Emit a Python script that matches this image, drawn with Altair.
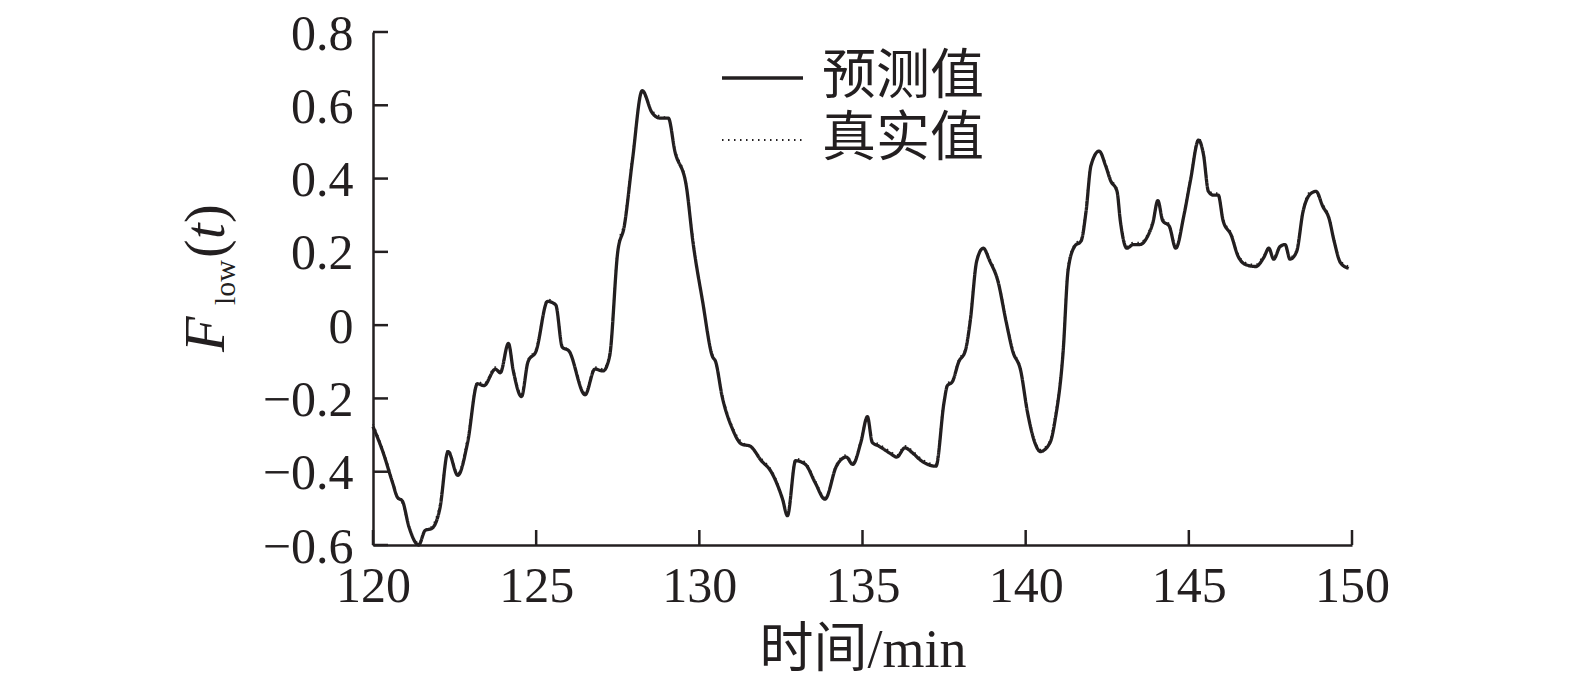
import altair as alt
import pandas as pd

# ---------------- data ----------------
t = [120.0, 120.3, 120.6, 120.75, 120.9, 121.1, 121.4, 121.6, 121.8, 122.05,
     122.3, 122.6, 122.9, 123.2, 123.4, 123.75, 123.9, 124.15, 124.3, 124.55,
     124.75, 125.0, 125.35, 125.6, 125.8, 126.0, 126.5, 126.8, 127.05, 127.25,
     127.5, 127.7, 127.95, 128.25, 128.55, 128.8, 129.05, 129.25, 129.6, 129.8,
     130.1, 130.4, 130.5, 130.7, 131.0, 131.3, 131.55, 131.9, 132.2, 132.55,
     132.7, 132.95, 133.25, 133.55, 133.85, 134.2, 134.5, 134.7, 134.95, 135.15,
     135.3, 135.5, 135.85, 136.05, 136.3, 136.55, 136.8, 137.0, 137.25, 137.5,
     137.6, 137.75, 137.95, 138.15, 138.3, 138.5, 138.7, 138.9, 139.15, 139.4,
     139.6, 139.85, 140.05, 140.3, 140.45, 140.75, 140.9, 141.15, 141.3, 141.5,
     141.7, 141.85, 142.0, 142.25, 142.45, 142.6, 142.8, 142.9, 143.1, 143.3,
     143.5, 143.75, 143.9, 144.05, 144.2, 144.4, 144.6, 144.85, 145.05, 145.3,
     145.45, 145.6, 145.75, 145.9, 146.05, 146.3, 146.5, 146.75, 147.05, 147.3,
     147.45, 147.6, 147.8, 147.95, 148.1, 148.3, 148.5, 148.75, 148.9, 149.1,
     149.3, 149.45, 149.65, 149.9]

pred = [-0.277, -0.345, -0.43, -0.47, -0.48, -0.55, -0.6, -0.56, -0.555, -0.5,
        -0.345, -0.41, -0.32, -0.16, -0.165, -0.12, -0.13, -0.05, -0.125, -0.195,
        -0.1, -0.07, 0.065, 0.055, -0.06, -0.07, -0.19, -0.12, -0.125, -0.085,
        0.2, 0.27, 0.45, 0.64, 0.58, 0.565, 0.565, 0.475, 0.38, 0.23,
        0.065, -0.085, -0.1, -0.195, -0.28, -0.325, -0.33, -0.37, -0.4, -0.475,
        -0.52, -0.37, -0.38, -0.43, -0.475, -0.385, -0.36, -0.38, -0.32, -0.25,
        -0.32, -0.33, -0.35, -0.36, -0.335, -0.35, -0.37, -0.38, -0.385, -0.21,
        -0.165, -0.155, -0.1, -0.07, 0.01, 0.175, 0.21, 0.175, 0.12, 0.01,
        -0.07, -0.125, -0.235, -0.325, -0.345, -0.32, -0.26, -0.07, 0.15, 0.215,
        0.23, 0.31, 0.435, 0.475, 0.435, 0.395, 0.365, 0.285, 0.21, 0.22,
        0.22, 0.245, 0.28, 0.34, 0.285, 0.27, 0.21, 0.3, 0.395, 0.505,
        0.465, 0.365, 0.355, 0.355, 0.285, 0.245, 0.19, 0.165, 0.16, 0.185,
        0.21, 0.18, 0.215, 0.22, 0.18, 0.2, 0.31, 0.36, 0.365, 0.325,
        0.29, 0.23, 0.17, 0.155]

true_v = [-0.27, -0.34, -0.425, -0.47, -0.485, -0.55, -0.595, -0.56, -0.55, -0.49,
          -0.34, -0.405, -0.31, -0.155, -0.16, -0.115, -0.125, -0.05, -0.12, -0.19,
          -0.095, -0.065, 0.07, 0.055, -0.055, -0.07, -0.185, -0.115, -0.12, -0.08,
          0.21, 0.28, 0.46, 0.635, 0.585, 0.57, 0.565, 0.48, 0.385, 0.235,
          0.07, -0.08, -0.1, -0.19, -0.275, -0.32, -0.33, -0.365, -0.395, -0.47,
          -0.515, -0.365, -0.375, -0.425, -0.47, -0.38, -0.355, -0.375, -0.315, -0.25,
          -0.315, -0.325, -0.345, -0.355, -0.33, -0.345, -0.365, -0.375, -0.38, -0.2,
          -0.16, -0.15, -0.095, -0.065, 0.02, 0.18, 0.21, 0.18, 0.125, 0.015,
          -0.065, -0.12, -0.23, -0.32, -0.34, -0.315, -0.25, -0.06, 0.16, 0.22,
          0.235, 0.32, 0.44, 0.475, 0.44, 0.4, 0.37, 0.29, 0.215, 0.225,
          0.225, 0.25, 0.285, 0.335, 0.29, 0.275, 0.215, 0.305, 0.4, 0.51,
          0.47, 0.37, 0.36, 0.36, 0.29, 0.25, 0.195, 0.17, 0.165, 0.19,
          0.205, 0.185, 0.215, 0.215, 0.185, 0.205, 0.315, 0.365, 0.36, 0.33,
          0.295, 0.235, 0.175, 0.16]

series = ["预测值", "真实值"]
x_ticks = [120, 125, 130, 135, 140, 145, 150]
y_ticks = [-0.6, -0.4, -0.2, 0, 0.2, 0.4, 0.6, 0.8]
x_title = "时间/min"
y_title_parts = ["F", "low", "(", "t", ")"]

# ---------------- styling ----------------
W, H = 979, 513
INK = "#231f20"
SERIF = "Liberation Serif"
MIXED = "Liberation Serif, 'Noto Sans CJK SC'"
CJK = "Noto Sans CJK SC"
TICK_LEN = 15
DOTS = [1.5, 4.5]

df = pd.DataFrame({
    "t": t + t,
    "v": pred + true_v,
    "series": [series[0]] * len(t) + [series[1]] * len(t),
    "ord": [0] * len(t) + [1] * len(t),
})

xs = alt.Scale(domain=[120, 150], nice=False, zero=False)
ys = alt.Scale(domain=[-0.6, 0.8], nice=False, zero=False)

x_axis = alt.Axis(
    values=x_ticks, title=x_title, ticks=False, grid=False,
    domainColor=INK, domainWidth=2.5, labelFont=SERIF, labelFontSize=50,
    labelColor=INK, labelPadding=16, labelFlush=False, labelOverlap=False,
    titleFont=MIXED, titleFontSize=54, titleFontWeight="normal",
    titleColor=INK, titlePadding=12)
y_axis = alt.Axis(
    values=y_ticks, title=None, ticks=False, grid=False,
    domainColor=INK, domainWidth=2.5, labelFont=SERIF, labelFontSize=50,
    labelColor=INK, labelPadding=20, labelFlush=False, labelOverlap=False,
    labelBaseline="alphabetic", labelOffset=17,
    labelExpr="datum.value == 0 ? '0' : replace(format(datum.value, '.1f'), '-', '\u2212')")

lines = alt.Chart(df).mark_line(color=INK, interpolate="monotone", strokeCap="butt").encode(
    x=alt.X("t:Q", scale=xs, axis=x_axis, title=x_title),
    y=alt.Y("v:Q", scale=ys, axis=y_axis, title=None),
    strokeDash=alt.StrokeDash("series:N", scale=alt.Scale(domain=series, range=[[1, 0], DOTS]), legend=None),
    strokeWidth=alt.StrokeWidth("series:N", scale=alt.Scale(domain=series, range=[3.3, 2]), legend=None),
    order=alt.Order("ord:Q"),
)

xtick_rules = alt.Chart(pd.DataFrame({"t": x_ticks})).mark_rule(color=INK, strokeWidth=2.5).encode(
    x=alt.X("t:Q", scale=xs, axis=x_axis, title=x_title),
    y=alt.value(H), y2=alt.value(H - TICK_LEN),
)
ytick_rules = alt.Chart(pd.DataFrame({"v": y_ticks})).mark_rule(color=INK, strokeWidth=2.5).encode(
    y=alt.Y("v:Q", scale=ys, axis=y_axis, title=None),
    x=alt.value(0), x2=alt.value(TICK_LEN),
)

def ytext(part, x, y, size, italic):
    kw = dict(font=SERIF, fontSize=size, color=INK, angle=270, align="left", baseline="alphabetic")
    if italic:
        kw["fontStyle"] = "italic"
    return alt.Chart(pd.DataFrame({"s": [part]})).mark_text(**kw).encode(
        text="s:N", x=alt.value(x), y=alt.value(y))

ylab = [
    ytext(y_title_parts[0], -149, 320, 58, True),
    ytext(y_title_parts[1], -138, 273, 30, False),
    ytext(y_title_parts[2], -149, 226, 56, False),
    ytext(y_title_parts[3], -149, 207, 56, True),
    ytext(y_title_parts[4], -149, 191, 56, False),
]

# manual legend (two rows)
def legend_row(i, y, dash, width):
    d = pd.DataFrame({"s": [series[i]]})
    mk = dict(color=INK, strokeWidth=width, strokeCap="butt")
    if dash:
        mk["strokeDash"] = dash
    sym = alt.Chart(d).mark_rule(**mk).encode(
        x=alt.value(349), x2=alt.value(430), y=alt.value(y))
    lab = alt.Chart(d).mark_text(font=CJK, fontSize=54, color=INK, align="left", baseline="middle").encode(
        text="s:N", x=alt.value(449), y=alt.value(y))
    return [sym, lab]

leg = legend_row(0, 46, None, 3.3) + legend_row(1, 108, DOTS, 2)

chart = alt.layer(lines, xtick_rules, ytick_rules, *ylab, *leg).properties(
    width=W, height=H,
    padding={"left": 365, "top": 24, "right": 200, "bottom": 142},
    autosize=alt.AutoSizeParams(type="none"),
    background="white",
).configure_view(strokeWidth=0)

chart.save("out.html", embed_options={"renderer": "svg", "actions": False})
